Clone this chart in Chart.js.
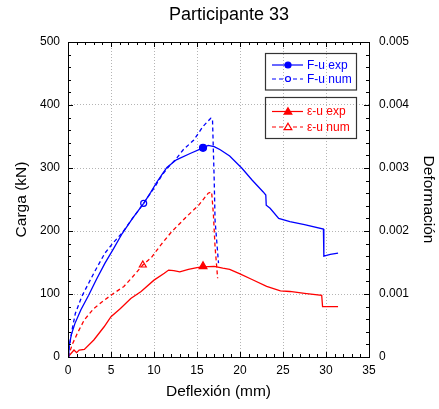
<!DOCTYPE html>
<html>
<head>
<meta charset="utf-8">
<script src="https://cdn.jsdelivr.net/npm/chart.js@4/dist/chart.umd.min.js"></script>
<style>
html, body { margin: 0; padding: 0; background: #fff; }
</style>
</head>
<body>
<canvas id="myChart" width="439" height="409"></canvas>
<script>
var chartTitle = 'Participante 33';
var xTitle = 'Deflexión (mm)';
var yTitle = 'Carga (kN)';
var y2Title = 'Deformación';

// F-u exp (kN)
var fuExpX = [0, 0.1, 0.4, 0.8, 1.5, 2.4, 3.3, 4.3, 5.3, 6.3, 7.5, 8.8, 9.6, 10.3, 11.0, 11.5, 12.6, 14.2, 15.7, 16.3, 17.0, 17.7, 18.8, 20.2, 21.4, 22.7, 23.0, 23.05, 23.5, 24.5, 25.8, 27.5, 29.7, 29.75, 30.5, 31.4];
var fuExpY = [0, 16, 36, 53, 75, 98, 123, 149, 172, 196, 220, 244, 261, 277, 291, 301, 313, 323, 332, 336, 334, 329, 319, 300, 281, 262, 257, 241, 236, 220, 215, 210, 203, 160, 163, 165];
// F-u num (kN)
var fuNumX = [0, 0.15, 0.5, 0.85, 1.6, 3.0, 4.3, 5.3, 6.3, 7.5, 8.8, 10.0, 11.0, 11.7, 12.6, 13.4, 14.6, 15.7, 16.6, 16.8, 17.0, 17.1, 17.5];
var fuNumY = [0, 16, 45, 69, 96, 133, 165, 182, 197, 220, 244, 268, 290, 302, 315, 329, 344, 366, 379, 378, 281, 217, 149];
// e-u exp (strain)
var euExpX = [0, 0.1, 0.7, 1.0, 1.3, 1.9, 3.0, 4.2, 5.0, 6.1, 7.3, 8.5, 10.0, 11.2, 11.7, 12.3, 13.0, 14.0, 15.0, 15.7, 17.0, 18.0, 18.8, 20.0, 21.4, 23.1, 24.7, 25.8, 27.5, 29.5, 29.6, 30.5, 31.4];
var euExpY = [0, 0, 0.00011, 0.00007, 0.00011, 0.00012, 0.00027, 0.00048, 0.00064, 0.00077, 0.00093, 0.00104, 0.00122, 0.00133, 0.00138, 0.00137, 0.00135, 0.00139, 0.00142, 0.00143, 0.00144, 0.00141, 0.00139, 0.00132, 0.00123, 0.00112, 0.00105, 0.00104, 0.00101, 0.00098, 0.0008, 0.0008, 0.0008];
// e-u num (strain)
var euNumX = [0, 0.5, 1.1, 1.9, 3.0, 4.2, 5.2, 6.5, 7.5, 8.7, 9.7, 10.8, 12.0, 13.8, 15.2, 16.3, 16.7, 16.9, 17.1, 17.4];
var euNumY = [0, 0.0002, 0.00038, 0.00059, 0.00077, 0.0009, 0.001, 0.00112, 0.00127, 0.00146, 0.00158, 0.00178, 0.00198, 0.00223, 0.00241, 0.0026, 0.00262, 0.00228, 0.00175, 0.00125];

// single markers on each curve
var fuExpMark = [15.7, 332];
var fuNumMark = [8.8, 244];
var euExpMark = [15.7, 0.00144];
var euNumMark = [8.7, 0.00146];

var xTicks = [0, 5, 10, 15, 20, 25, 30, 35];
var yTicks = [0, 100, 200, 300, 400, 500];
var y2Ticks = [0, 0.001, 0.002, 0.003, 0.004, 0.005];

var blue = '#0000ff';
var red = '#ff0000';
var fontFam = '"Liberation Sans", Arial, Helvetica, sans-serif';
Chart.defaults.font.family = fontFam;
Chart.defaults.color = '#000';

function pts(xs, ys) {
    var out = [];
    for (var i = 0; i < xs.length; i++) {
        out.push({ x: xs[i], y: ys[i] });
    }
    return out;
}

function lineSet(label, xs, ys, color, dashed, axis) {
    return {
        label: label,
        data: pts(xs, ys),
        yAxisID: axis,
        showLine: true,
        borderColor: color,
        borderWidth: 1.3,
        borderDash: dashed ? [4, 3] : [],
        pointRadius: 0,
        fill: false,
        tension: 0
    };
}

function markSet(m, color, style, filled, r, axis) {
    return {
        data: [{ x: m[0], y: m[1] }],
        yAxisID: axis,
        showLine: false,
        pointStyle: style,
        pointRadius: r,
        pointBorderWidth: 1.2,
        pointBorderColor: color,
        pointBackgroundColor: filled ? color : '#fff'
    };
}

function gridColor(ctx, lo, hi) {
    if (!ctx.tick) return 'rgba(0,0,0,0)';
    if (ctx.tick.value === lo || ctx.tick.value === hi) return 'rgba(0,0,0,0)';
    return '#b4b4b4';
}

// frame, inward ticks, title text and the two legend boxes
var decor = {
    id: 'decor',
    afterDatasetsDraw: function (chart) {
        var c = chart.ctx;
        var a = chart.chartArea;
        var xs = chart.scales.x, ys = chart.scales.y;
        c.save();
        c.strokeStyle = '#000';
        c.lineWidth = 1;
        c.setLineDash([]);
        c.beginPath();
        var v, p, len;
        for (v = 0; v <= 35; v++) {
            p = Math.round(xs.getPixelForValue(v)) + 0.5;
            len = v % 5 === 0 ? 5 : 3;
            c.moveTo(p, a.bottom); c.lineTo(p, a.bottom - len);
            c.moveTo(p, a.top); c.lineTo(p, a.top + len);
        }
        for (v = 0; v <= 500; v += 20) {
            p = Math.round(ys.getPixelForValue(v)) + 0.5;
            len = v % 100 === 0 ? 5 : 3;
            c.moveTo(a.left, p); c.lineTo(a.left + len, p);
            c.moveTo(a.right, p); c.lineTo(a.right - len, p);
        }
        c.stroke();
        c.strokeRect(Math.round(a.left) + 0.5, Math.round(a.top) + 0.5, Math.round(a.right - a.left), Math.round(a.bottom - a.top));

        c.fillStyle = '#000';
        c.font = '18px ' + fontFam;
        c.textAlign = 'center';
        c.textBaseline = 'alphabetic';
        c.fillText(chartTitle, 229, 19.5);

        drawLegendBox(c, 265.5, 53.5, 91, 36.5, [
            { y: 65, text: 'F-u exp', color: blue, dash: false, style: 'circle', fill: true },
            { y: 79, text: 'F-u num', color: blue, dash: true, style: 'circle', fill: false }
        ]);
        drawLegendBox(c, 265.5, 97.5, 91, 41, [
            { y: 111.5, text: 'ε-u exp', color: red, dash: false, style: 'tri', fill: true },
            { y: 127, text: 'ε-u num', color: red, dash: true, style: 'tri', fill: false }
        ]);
        c.restore();
    }
};

function drawLegendBox(c, x, y, w, h, rows) {
    c.setLineDash([]);
    c.lineWidth = 1.2;
    c.strokeStyle = '#333';
    c.strokeRect(x, y, w, h);
    for (var i = 0; i < rows.length; i++) {
        var r = rows[i];
        c.strokeStyle = r.color;
        c.lineWidth = 1.2;
        c.setLineDash(r.dash ? [4, 3] : []);
        c.beginPath();
        c.moveTo(272, r.y); c.lineTo(303, r.y);
        c.stroke();
        c.setLineDash([]);
        c.fillStyle = r.fill ? r.color : '#fff';
        c.beginPath();
        if (r.style === 'circle') {
            c.arc(288, r.y, r.fill ? 3 : 2.5, 0, Math.PI * 2);
        } else {
            c.moveTo(288, r.y - 3.8); c.lineTo(291.8, r.y + 2.6); c.lineTo(284.2, r.y + 2.6); c.closePath();
        }
        c.fill();
        c.stroke();
        c.fillStyle = r.color;
        c.font = '12px ' + fontFam;
        c.textAlign = 'left';
        c.textBaseline = 'middle';
        c.fillText(r.text, 307, r.y + 0.5);
    }
}

new Chart('myChart', {
    type: 'scatter',
    data: {
        datasets: [
            lineSet('F-u exp', fuExpX, fuExpY, blue, false, 'y'),
            lineSet('F-u num', fuNumX, fuNumY, blue, true, 'y'),
            lineSet('ε-u exp', euExpX, euExpY, red, false, 'y2'),
            lineSet('ε-u num', euNumX, euNumY, red, true, 'y2'),
            markSet(fuExpMark, blue, 'circle', true, 3.5, 'y'),
            markSet(fuNumMark, blue, 'circle', false, 3, 'y'),
            markSet(euExpMark, red, 'triangle', true, 4.5, 'y2'),
            markSet(euNumMark, red, 'triangle', false, 4, 'y2')
        ]
    },
    options: {
        responsive: false,
        animation: false,
        layout: { padding: { top: 42, left: 0, right: 0, bottom: 0 } },
        plugins: {
            legend: { display: false },
            title: { display: false },
            tooltip: { enabled: false }
        },
        scales: {
            x: {
                type: 'linear', position: 'bottom', min: 0, max: 35,
                afterBuildTicks: function (s) { s.ticks = xTicks.map(function (v) { return { value: v }; }); },
                afterFit: function (s) { s.height = 52; },
                ticks: { font: { size: 12 }, color: '#000', padding: 6, maxRotation: 0 },
                grid: { drawTicks: false, lineWidth: 1, color: function (ctx) { return gridColor(ctx, 0, 35); } },
                border: { display: false, dash: [1, 2] },
                title: { display: true, text: xTitle, font: { size: 15.5 }, color: '#000', padding: { top: 0, bottom: 8 } }
            },
            y: {
                type: 'linear', position: 'left', min: 0, max: 500,
                afterBuildTicks: function (s) { s.ticks = yTicks.map(function (v) { return { value: v }; }); },
                afterFit: function (s) { s.width = 68; },
                ticks: { font: { size: 12 }, color: '#000', padding: 8 },
                grid: { drawTicks: false, lineWidth: 1, color: function (ctx) { return gridColor(ctx, 0, 500); } },
                border: { display: false, dash: [1, 2] },
                title: { display: true, text: yTitle, font: { size: 15.5 }, color: '#000', padding: { top: 12, bottom: 0 } }
            },
            y2: {
                type: 'linear', position: 'right', min: 0, max: 0.005,
                afterBuildTicks: function (s) { s.ticks = y2Ticks.map(function (v) { return { value: v }; }); },
                afterFit: function (s) { s.width = 70; },
                ticks: {
                    font: { size: 12 }, color: '#000', padding: 10,
                    callback: function (v) { return v === 0 ? '0' : v.toFixed(3); }
                },
                grid: { display: false, drawTicks: false },
                border: { display: false },
                title: { display: true, text: y2Title, font: { size: 15.5 }, color: '#000', padding: { top: 1, bottom: 0 } }
            }
        }
    },
    plugins: [decor]
});
</script>
</body>
</html>
